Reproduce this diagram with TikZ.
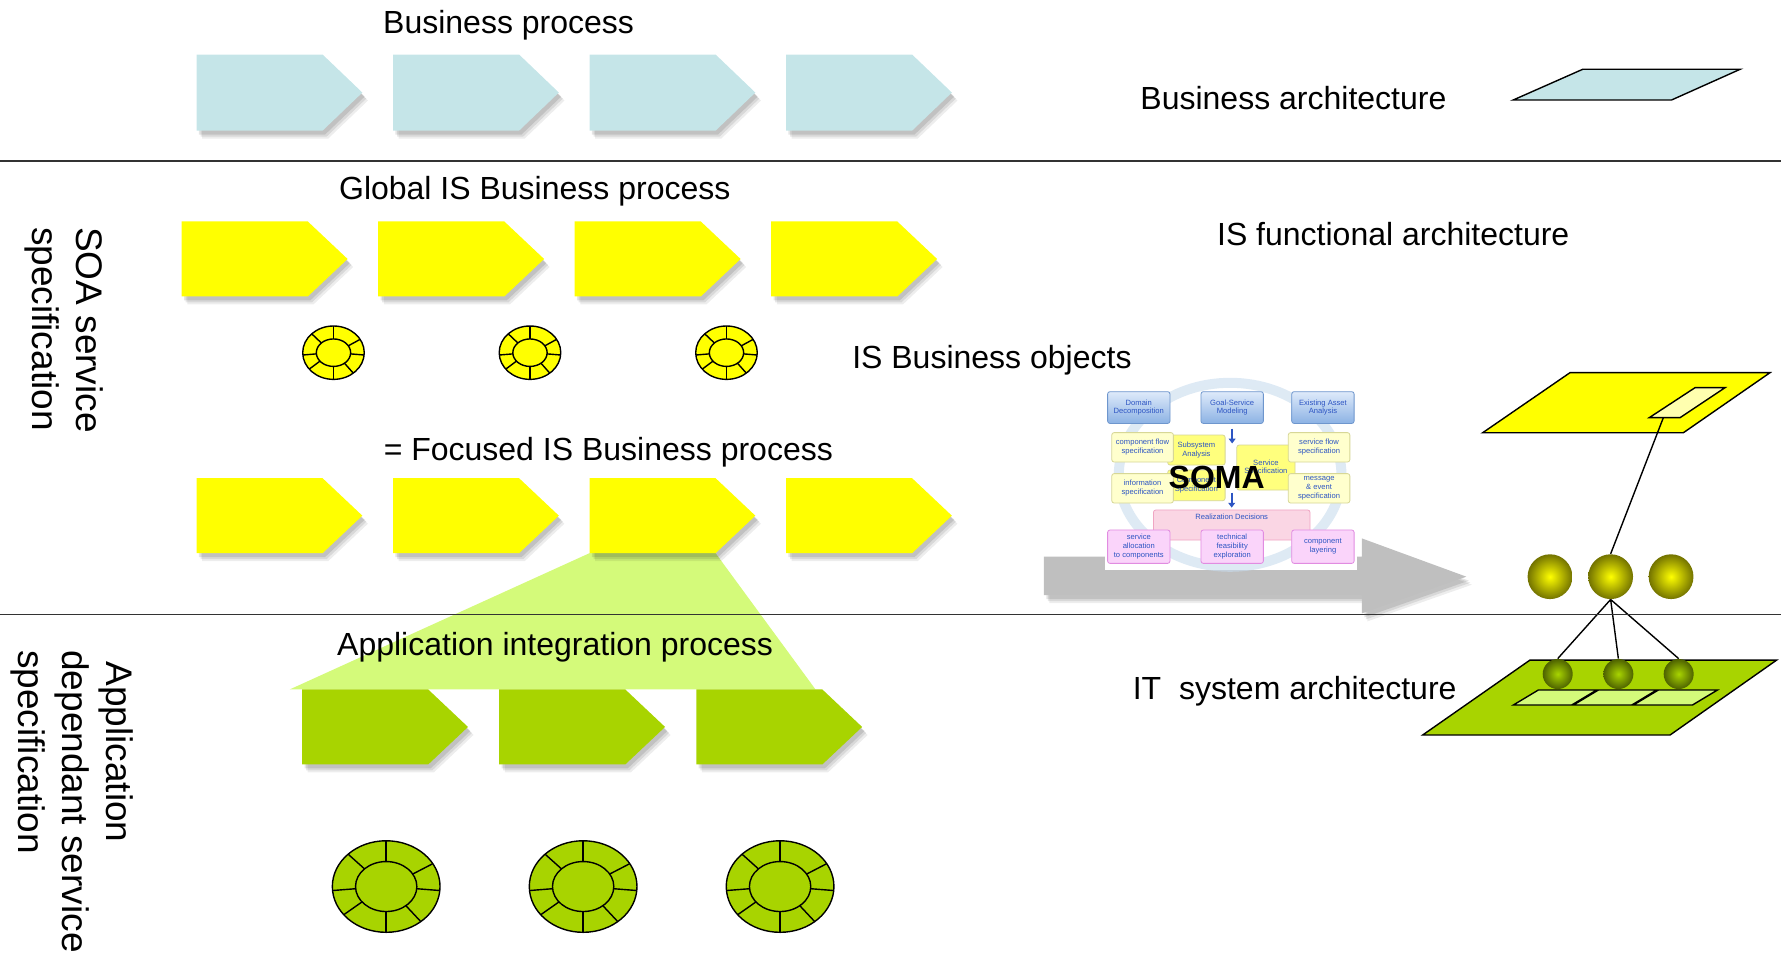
\documentclass[tikz,border=0pt]{standalone}
\usepackage{fontspec}
\setmainfont{Liberation Sans}
\usetikzlibrary{shadows,arrows.meta}

\definecolor{bpblue}{RGB}{197,229,232}
\definecolor{isyellow}{RGB}{255,255,0}
\definecolor{paleyellow}{RGB}{255,255,175}
\definecolor{appgreen}{RGB}{168,212,0}
\definecolor{fangreen}{RGB}{212,250,122}
\definecolor{arrgray}{RGB}{191,191,191}
\definecolor{olivedark}{RGB}{115,115,0}
\definecolor{greendark}{RGB}{78,98,0}
\definecolor{somaring}{RGB}{200,220,238}
\definecolor{somatext}{RGB}{45,85,195}
\definecolor{somablueA}{RGB}{222,234,250}
\definecolor{somablueB}{RGB}{140,178,228}
\definecolor{somablueD}{RGB}{110,150,205}
\definecolor{somalyel}{RGB}{255,255,205}
\definecolor{somalyelD}{RGB}{215,215,150}
\definecolor{somayel}{RGB}{255,255,125}
\definecolor{somapink}{RGB}{250,214,228}
\definecolor{somapinkD}{RGB}{240,165,195}
\definecolor{somamag}{RGB}{250,212,250}
\definecolor{somamagD}{RGB}{225,140,225}

\begin{document}
\begin{tikzpicture}[x=0.5679pt, y=-0.5679pt,
    lbl/.style={anchor=base west, inner sep=0pt, font=\fontsize{16}{19}\selectfont},
    sidelbl/.style={rotate=-90, anchor=north west, align=left, inner sep=0pt, font=\fontsize{18.5}{22}\selectfont},
    soft/.style={drop shadow={shadow xshift=1.2pt, shadow yshift=-2pt, opacity=.10, fill=black},
                 drop shadow={shadow xshift=2pt, shadow yshift=-3pt, opacity=.09, fill=black},
                 drop shadow={shadow xshift=2.8pt, shadow yshift=-4pt, opacity=.07, fill=black}},
    somabox/.style={rounded corners=1.2pt, align=center, inner sep=0.4pt, text=somatext,
                    font=\fontsize{3.8}{4.4}\selectfont, minimum width=31.2pt, minimum height=15.9pt},
    sb/.style={somabox, draw=somablueD, top color=somablueA, bottom color=somablueB},
    sy/.style={somabox, draw=somalyelD, fill=somalyel, minimum width=30.8pt, minimum height=14.7pt},
    syy/.style={somabox, draw=somalyelD, fill=somayel},
    sp/.style={somabox, draw=somapinkD, fill=somapink},
    sm/.style={somabox, draw=somamagD, fill=somamag, minimum height=16.7pt},
    somaarr/.style={-{Triangle[length=2.4pt,width=3.4pt]}, line width=1.1pt, somatext},
    ysph/.style={circle, inner sep=0pt, minimum size=22.4pt, shading=radial, inner color=isyellow, outer color=olivedark},
    gsph/.style={circle, inner sep=0pt, minimum size=15pt, shading=radial, inner color=appgreen, outer color=greendark}]
\useasboundingbox (0,0) rectangle (1568,842);

% process chevrons
\foreach \x in {173,346,519,692}
  \fill[bpblue, soft] (\x,48) -- ++(111,0) -- ++(35,33.5) -- ++(-35,33.5) -- ++(-111,0) -- cycle;
\foreach \x in {160,333,506,679}
  \fill[isyellow, soft] (\x,195) -- ++(111,0) -- ++(35,33) -- ++(-35,33) -- ++(-111,0) -- cycle;
\fill[fangreen] (519,487) -- (630,487) -- (718,607) -- (255,607) -- cycle;
\foreach \x in {173,346,519,692}
  \fill[isyellow, soft] (\x,421) -- ++(111,0) -- ++(35,33) -- ++(-35,33) -- ++(-111,0) -- cycle;
\foreach \x in {266,439.5,613}
  \fill[appgreen, soft] (\x,607) -- ++(111,0) -- ++(35,33) -- ++(-35,33) -- ++(-111,0) -- cycle;

% business objects
\foreach \c in {293.6,466.6,639.6} {
  \draw[fill=isyellow, line width=0.7pt] (\c,310.5) ellipse [x radius=27.1, y radius=23.5];
  \draw[line width=0.7pt] (\c,310.5) ellipse [x radius=15.1, y radius=12.1];
  \foreach \a in {90,135,185,218,270,310,355,30}
    \draw[line width=0.7pt] (\c,310.5) +(-\a:15.1 and 12.1) -- +(-\a:27.1 and 23.5);
}
\foreach \c in {340,513.4,686.8} {
  \draw[fill=appgreen, line width=0.7pt] (\c,780.5) ellipse [x radius=47.4, y radius=40.3];
  \draw[line width=0.7pt] (\c,780.5) ellipse [x radius=27, y radius=22];
  \foreach \a in {90,135,185,218,270,310,355,30}
    \draw[line width=0.7pt] (\c,780.5) +(-\a:27 and 22) -- +(-\a:47.4 and 40.3);
}

% SOMA
\fill[arrgray, soft] (919,490) -- (1199,490) -- (1199,474) -- (1291,507.7) -- (1199,540) -- (1199,524) -- (919,524) -- cycle;
\fill[white] (972.9,340) rectangle (1194.5,501.8);
\draw[somaring, line width=5pt, opacity=.6] (1083,418) ellipse [x radius=98, y radius=81];
\node[syy, minimum width=28.7pt, minimum height=15pt] (subsys) at (1053.3,396.2) {Subsystem\\Analysis};
\node[syy, minimum width=28.7pt, minimum height=15.3pt] (compspec) at (1053.3,427.3) {Component\\Specification};
\node[syy, minimum width=29.1pt, minimum height=22.5pt] (servspec) at (1114.5,411.6) {Service\\Specification};
\node[sp, minimum width=78.3pt, minimum height=15pt] (realize) at (1084.4,462.2) {};
\node[somabox, anchor=north, minimum width=0pt, minimum height=0pt, yshift=-1.6pt] (realtxt) at (realize.north) {Realization Decisions};
\node[sb] (domain) at (1002.6,358.8) {Domain\\Decomposition};
\node[sb] (goal) at (1084.8,358.8) {Goal-Service\\Modeling};
\node[sb] (asset) at (1164.7,358.8) {Existing Asset\\Analysis};
\node[sy] (compflow) at (1005.9,393.8) {component flow\\specification};
\node[sy] (servflow) at (1161.3,393.8) {service flow\\specification};
\node[sy] (info) at (1005.9,429.9) {information\\specification};
\node[sy] (msg) at (1161.3,429.9) {message\\\& event\\specification};
\node[sm] (alloc) at (1002.6,481.3) {service\\allocation\\to components};
\node[sm] (feas) at (1084.8,481.3) {technical\\feasibility\\exploration};
\node[sm] (layer) at (1164.7,481.3) {component\\layering};
\draw[somaarr] ([yshift=-2.4pt]goal.south) -- ([yshift=-9.8pt]goal.south);
\draw[somaarr] ([yshift=8.5pt]realize.north) -- ([yshift=1pt]realize.north);
\node[font=\fontsize{16}{19}\selectfont\bfseries, inner sep=0pt] (soma) at (1071.2,420.2) {SOMA};

% architecture planes
\draw[fill=bpblue, line width=0.7pt] (1332.3,88) -- (1393.4,61) -- (1532,61) -- (1471.7,88) -- cycle;
\draw[fill=isyellow, line width=0.7pt] (1305.3,381) -- (1382.2,328.1) -- (1558.3,328.1) -- (1482,381) -- cycle;
\draw[fill=paleyellow, line width=0.7pt] (1452,367.7) -- (1492.3,341.3) -- (1518.7,341.3) -- (1479.1,367.7) -- cycle;
\coordinate (isobj) at (1464.4,367.7);
\draw[fill=appgreen, line width=0.7pt] (1252.5,647.1) -- (1347,581.1) -- (1564.2,581.1) -- (1470.3,647.1) -- cycle;
\draw[fill=fangreen, line width=0.7pt] (1332.3,620.7) -- (1354.3,607.5) -- (1405.7,607.5) -- (1383.7,620.7) -- cycle
  (1385.2,620.7) -- (1407.2,607.5) -- (1458.5,607.5) -- (1436.6,620.7) -- cycle
  (1438,620.7) -- (1460,607.5) -- (1512,607.5) -- (1490,620.7) -- cycle;
\node[ysph] (s1) at (1364.6,507.7) {};
\node[ysph] (s2) at (1418,507.7) {};
\node[ysph] (s3) at (1471.2,507.7) {};
\node[gsph] (g1) at (1371.4,593.4) {};
\node[gsph] (g2) at (1424.8,593.4) {};
\node[gsph] (g3) at (1477.9,593.4) {};
\draw[line width=0.7pt] (isobj) -- (s2.north);
\draw[line width=0.7pt] (s2.south) -- (g1.north) (s2.south) -- (g2.north) (s2.south) -- (g3.north);

% layer separators
\draw[line width=0.9pt, black!80] (0,142) -- (1568,142) (0,541) -- (1568,541);

% labels
\node[lbl] (bp) at (337,29.5) {Business process};
\node[lbl] (ba) at (1003.7,96.8) {Business architecture};
\node[lbl] (gisbp) at (298.2,176) {Global IS Business process};
\node[lbl] (isfa) at (1071.2,215.7) {IS functional architecture};
\node[lbl] (isbo) at (750,324) {IS Business objects};
\node[lbl] (fisbp) at (337.5,405) {= Focused IS Business process};
\node[lbl] (aip) at (296.5,576.7) {Application integration process};
\node[lbl] (itsa) at (997,616) {IT\ \ system architecture};
\node[sidelbl] (soa) at (91,199.6) {SOA service\\specification};
\node[sidelbl] (ads) at (118,572.2) {\hspace*{0.3em}Application\\dependant service\\specification};
\end{tikzpicture}
\end{document}
